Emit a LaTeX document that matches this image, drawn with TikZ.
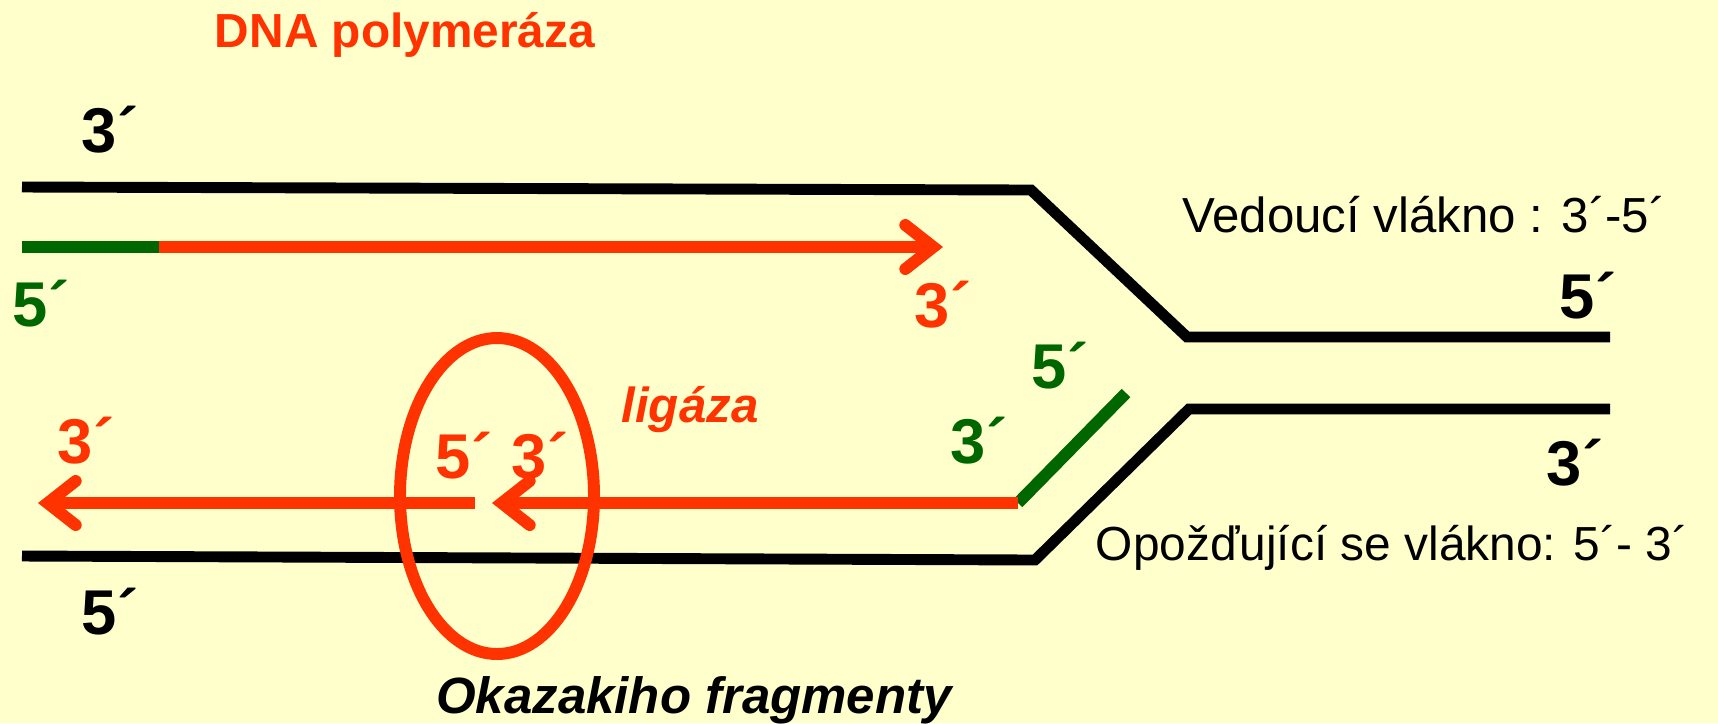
\documentclass[tikz,border=0pt]{standalone}
\usepackage{fontspec}
\setmainfont{Liberation Sans}
\usetikzlibrary{arrows.meta}

\definecolor{slideyellow}{RGB}{255,255,204}
\definecolor{dnared}{RGB}{255,51,0}
\definecolor{primergreen}{RGB}{0,102,0}

\begin{document}
\begin{tikzpicture}[
    x=0.01cm,
    y=-0.01cm,
    strand/.style={
        draw=black,
        line width=3.1pt,
        line join=miter
    },
    newstrand/.style={
        draw=dnared,
        line width=3.4pt
    },
    growth/.style={
        newstrand,
        -{Straight Barb[length=0.28cm, width=0.44cm, line cap=round, line join=miter]}
    },
    primer/.style={
        draw=primergreen,
        line width=3.4pt
    },
    endlabel/.style={
        font=\fontsize{18}{20}\selectfont\bfseries,
        inner sep=0pt
    },
    caption/.style={
        font=\fontsize{14}{17}\selectfont,
        anchor=base,
        inner sep=0pt
    },
    enzyme/.style={
        font=\fontsize{14}{17}\selectfont\bfseries\itshape,
        text=dnared,
        anchor=base,
        inner sep=0pt
    }
]

% Background
\fill[slideyellow] (0,0) rectangle (1718,723);
\useasboundingbox (0,0) rectangle (1718,723);

% ==================================================
% Parental strands (replication fork)
% ==================================================

\coordinate (top1) at (22,187);
\coordinate (top2) at (1031,190);
\coordinate (top3) at (1187,337);
\coordinate (top4) at (1610,337);

\coordinate (bot1) at (22,556);
\coordinate (bot2) at (1035,560);
\coordinate (bot3) at (1189,409);
\coordinate (bot4) at (1610,409);

\draw[strand] (top1) -- (top2) -- (top3) -- (top4);
\draw[strand] (bot1) -- (bot2) -- (bot3) -- (bot4);

% ==================================================
% Leading strand
% ==================================================

\coordinate (leadA) at (22,247);
\coordinate (leadB) at (159,247);
\coordinate (leadTip) at (943,247);

\draw[primer] (leadA) -- (leadB);
\draw[growth] (leadB) -- (leadTip);

% ==================================================
% Lagging strand (Okazaki fragments)
% ==================================================

\coordinate (lagA) at (1018,503);
\coordinate (lagB) at (1126,393);
\coordinate (lagTip) at (492,503);
\coordinate (fragA) at (475,503);
\coordinate (fragTip) at (38,503);

\draw[primer] (lagA) -- (lagB);
\draw[growth] (lagA) -- (lagTip);
\draw[growth] (fragA) -- (fragTip);

% ligase ring
\draw[dnared, line width=3.4pt] (497,496) ellipse [x radius=97, y radius=158];

% ==================================================
% Labels
% ==================================================

\node[enzyme, font=\fontsize{13.6}{16}\selectfont\bfseries] (polymeraza) at (405,47)
    {DNA polymeráza};

\node[endlabel] (topThree) at (110,130) {3´};
\node[endlabel, text=primergreen] (leadFive) at (41,304) {5´};
\node[endlabel, text=dnared] (leadThree) at (943,305) {3´};

\node[caption] (vedouci) at (1424,232)
    {Vedoucí vlákno : 3´-5´};

\node[endlabel] (rightFive) at (1588,296) {5´};
\node[endlabel] (rightThree) at (1575,463) {3´};

\node[endlabel, text=primergreen] (primerFive) at (1060,366) {5´};
\node[endlabel, text=primergreen] (primerThree) at (979,441) {3´};

\node[caption, font=\fontsize{13.6}{17}\selectfont] (opozdujici) at (1392,560)
    {Opožďující se vlákno: 5´- 3´};

\node[enzyme] (ligaza) at (690,422) {ligáza};

\node[endlabel, text=dnared] (fragThree) at (86,441) {3´};
\node[endlabel, text=dnared] (gapFive) at (464,456) {5´};
\node[endlabel, text=dnared] (gapThree) at (540,456) {3´};

\node[endlabel] (bottomFive) at (110,612) {5´};

\node[enzyme, text=black, font=\fontsize{14.5}{17}\selectfont\bfseries\itshape] (okazaki) at (694,713)
    {Okazakiho fragmenty};

\end{tikzpicture}
\end{document}
